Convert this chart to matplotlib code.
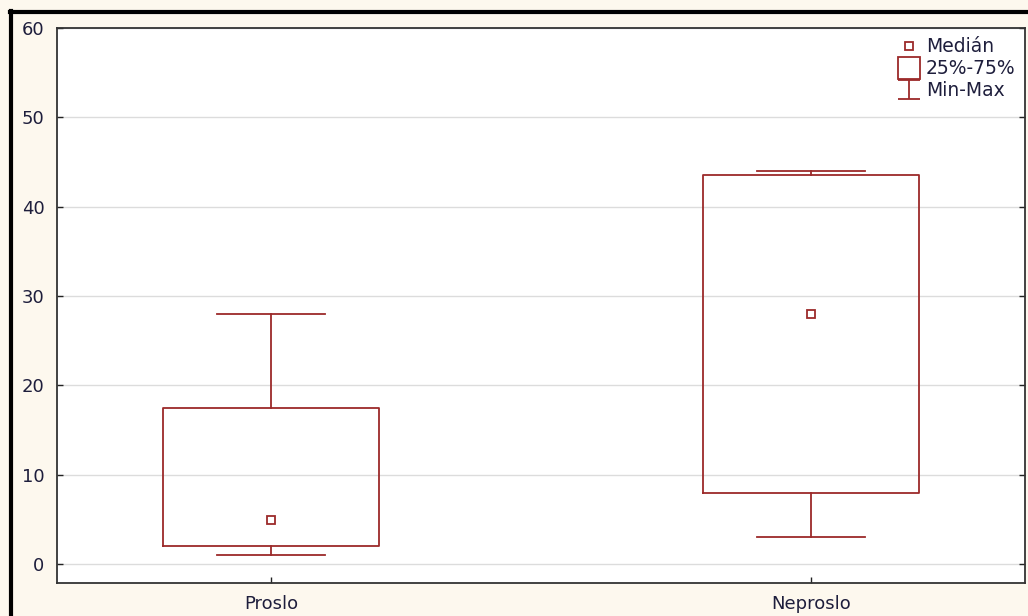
import numpy as np
import matplotlib.pyplot as plt
from matplotlib.lines import Line2D

plt.rcParams['font.family'] = ['DejaVu Sans']

# Skupiny a souhrnné statistiky
categories = ['Proslo', 'Neproslo']
mins = [1, 3]
q1s = [2, 8]
medians = [5, 28]
q3s = [17.5, 43.5]
maxs = [28, 44]

box_color = '#9c2a2a'
text_color = '#1e1e3c'

fig = plt.figure(figsize=(10.28, 6.16), dpi=100, facecolor='#fdf8ee')
ax = fig.add_axes([0.0554, 0.0536, 0.9416, 0.9009])
ax.set_facecolor('white')

stats = []
for name, lo, a, m, b, hi in zip(categories, mins, q1s, medians, q3s, maxs):
    stats.append({'label': name, 'whislo': lo, 'q1': a, 'med': m,
                  'q3': b, 'whishi': hi, 'fliers': []})

pos = np.arange(len(categories))
ax.bxp(stats, positions=pos, widths=0.4, capwidths=0.2, showfliers=False,
       boxprops=dict(color=box_color, lw=1.3),
       whiskerprops=dict(color=box_color, lw=1.3),
       capprops=dict(color=box_color, lw=1.3),
       medianprops=dict(lw=0), manage_ticks=False)
ax.plot(pos, medians, ls='none', marker='s', ms=6, mfc='white',
        mec=box_color, mew=1.3)

ax.set_xlim(-0.396, 1.396)
ax.set_ylim(-2.1, 60)
ax.set_xticks(pos)
ax.set_xticklabels(categories)
ax.set_yticks(np.arange(0, 61, 10))
ax.yaxis.grid(True, color='#dcdcdc', lw=1)
ax.set_axisbelow(True)
ax.tick_params(direction='in', length=4, width=1, colors='#222222',
               labelcolor=text_color, labelsize=13, top=False, right=True)
ax.tick_params(axis='y', pad=9)
ax.tick_params(axis='x', pad=9)
for s in ax.spines.values():
    s.set_color('#333333')
    s.set_linewidth(1.3)

# Legenda
h_med = Line2D([], [], ls='none', marker='s', ms=6, mfc='white',
               mec=box_color, mew=1.3)
h_box = Line2D([], [], ls='none', marker='s', ms=16, mfc='white',
               mec=box_color, mew=1.3)
h_rng = ax.errorbar([np.nan], [np.nan], yerr=[1], fmt='none',
                    ecolor=box_color, elinewidth=1.3, capsize=8, capthick=1.3)
leg = ax.legend([h_med, h_box, h_rng], ['Medián', '25%-75%', 'Min-Max'],
                loc='upper right', frameon=False, fontsize=13.5,
                handlelength=1.2, handletextpad=0.3, labelspacing=0.15,
                borderaxespad=0.1)
for t in leg.get_texts():
    t.set_color(text_color)

# Rámeček kolem grafu
fig.add_artist(Line2D([0.0105, 0.0105], [0, 0.982], color='black', lw=3,
                      transform=fig.transFigure))
fig.add_artist(Line2D([0.0095, 1], [0.981, 0.981], color='black', lw=3,
                      transform=fig.transFigure))

fig.savefig('out.png', dpi=100, facecolor=fig.get_facecolor())
